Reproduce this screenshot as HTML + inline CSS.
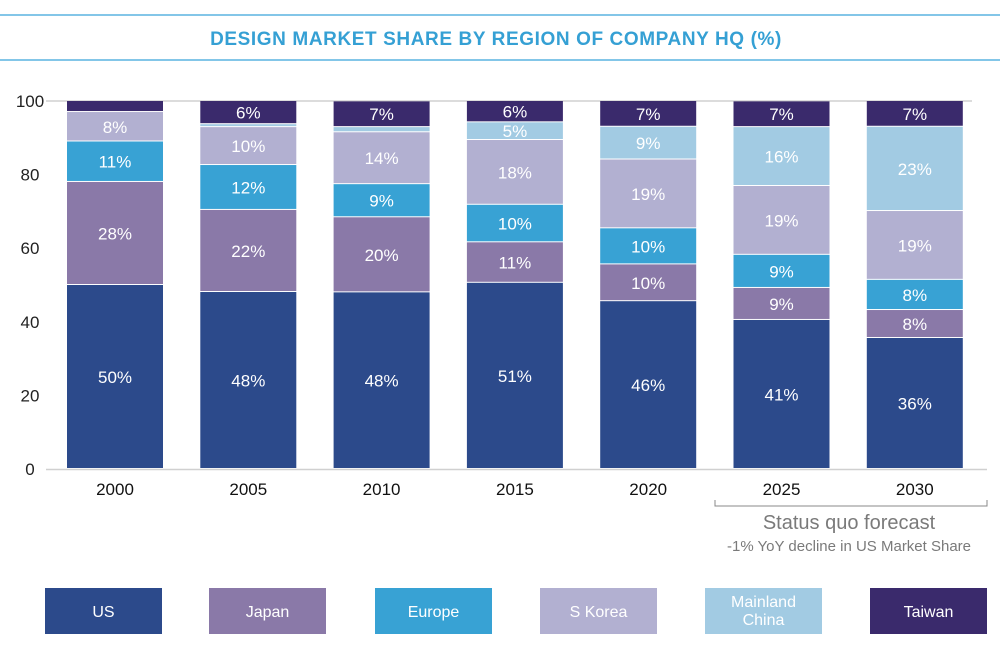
<!DOCTYPE html>
<html><head><meta charset="utf-8">
<style>
body{margin:0;background:#fff;font-family:"Liberation Sans",sans-serif;}
#wrap{position:relative;width:1000px;height:645px;overflow:hidden;}
</style></head>
<body>
<div id="wrap">
<svg id="chart" width="1000" height="645">
  <line x1="0" y1="15" x2="1000" y2="15" stroke="#5ab4e0" stroke-width="1.5"/>
  <line x1="0" y1="60" x2="1000" y2="60" stroke="#5ab4e0" stroke-width="1.5"/>
  <text x="496" y="45" text-anchor="middle" font-size="19" font-weight="bold" fill="#35a0d4" letter-spacing="0.6">DESIGN MARKET SHARE BY REGION OF COMPANY HQ (%)</text>
  <g id="grid"></g>
  <g id="bars"></g>
  <g id="axes"></g>
  <path d="M715 500 V506 H987 V500" fill="none" stroke="#888" stroke-width="1"/>
  <text x="849" y="529" text-anchor="middle" font-size="20" fill="#7a7a7a">Status quo forecast</text>
  <text x="849" y="551" text-anchor="middle" font-size="15" fill="#7a7a7a">-1% YoY decline in US Market Share</text>
  <g id="legend"></g>
</svg>
</div>
<script>
const years = ['2000','2005','2010','2015','2020','2025','2030'];
const seriesNames = ['US','Japan','Europe','S Korea','Mainland China','Taiwan'];
const usVals = [50, 48.1, 48, 50.6, 45.6, 40.5, 35.6];
const japanVals = [28, 22.3, 20.4, 11, 10, 8.7, 7.6];
const europeVals = [11, 12.2, 9, 10.2, 9.8, 9, 8.2];
const skoreaVals = [8, 10.3, 14.1, 17.6, 18.7, 18.7, 18.7];
const chinaVals = [0, 0.8, 1.4, 4.8, 8.9, 16, 22.9];
const taiwanVals = [3, 6.3, 7, 5.8, 7, 7, 7];
const yTicks = [0, 20, 40, 60, 80, 100];
const colors = ['#2c4a8b','#8a79a8','#38a2d4','#b2b0d1','#a2cbe3','#3a2a6c'];

const NS = 'http://www.w3.org/2000/svg';
const y0 = 469, yTop = 101;
const yScale = v => y0 - (v/100)*(y0-yTop);
const xCenter = i => 115 + i*133.3;
const barW = 96;
function mk(tag, attrs, parent){const e=document.createElementNS(NS,tag);for(const k in attrs)e.setAttribute(k,attrs[k]);parent.appendChild(e);return e;}
const grid=document.getElementById('grid'), bars=document.getElementById('bars'), axes=document.getElementById('axes'), legend=document.getElementById('legend');

yTicks.forEach(t=>{
  const y=yScale(t);
  if(t===100){
    const gl=mk('line',{x1:46,x2:972,y1:y,y2:y,stroke:'#d0d0d0','stroke-width':1.5},grid);
    
    
  }
  const tx=mk('text',{x:30,y:y+6,'text-anchor':'middle','font-size':17,fill:'#222'},axes);
  tx.textContent=t;
  
  
});

const all=[usVals,japanVals,europeVals,skoreaVals,chinaVals,taiwanVals];
years.forEach((yr,i)=>{
  let cum=0;
  all.forEach((arr,s)=>{
    const v=arr[i];
    if(v<=0)return;
    const ya=yScale(Math.min(100,cum+v)), yb=yScale(cum);
    const r=mk('rect',{x:xCenter(i)-barW/2,y:ya,width:barW,height:Math.max(0,yb-ya-1),fill:colors[s]},bars);
    
    
    if(v>=4.5){
      const t=mk('text',{x:xCenter(i),y:(ya+yb)/2+6,'text-anchor':'middle','font-size':17,fill:'#fff'},bars);
      t.textContent=Math.round(v)+'%';
      
      
    }
    cum+=v;
  });
  const xl=mk('text',{x:xCenter(i),y:495,'text-anchor':'middle','font-size':17,fill:'#111'},axes);
  xl.textContent=yr;
  
  
});
const base=mk('line',{x1:46,x2:987,y1:y0+0.5,y2:y0+0.5,stroke:'#d0d0d0','stroke-width':1.5},axes);



const legX=[45,209,375,540,705,870];
seriesNames.forEach((n,s)=>{
  const r=mk('rect',{x:legX[s],y:588,width:117,height:46,fill:colors[s]},legend);
  
  
  const cx=legX[s]+58.5;
  if(n==='Mainland China'){
    ['Mainland','China'].forEach((w,k)=>{
      const t=mk('text',{x:cx,y:607+k*18,'text-anchor':'middle','font-size':16,fill:'#fff'},legend);
      t.textContent=w;
      
      
    });
  } else {
    const t=mk('text',{x:cx,y:617,'text-anchor':'middle','font-size':16,fill:'#fff'},legend);
    t.textContent=n;
    
    
  }
});
</script>
</body></html>
